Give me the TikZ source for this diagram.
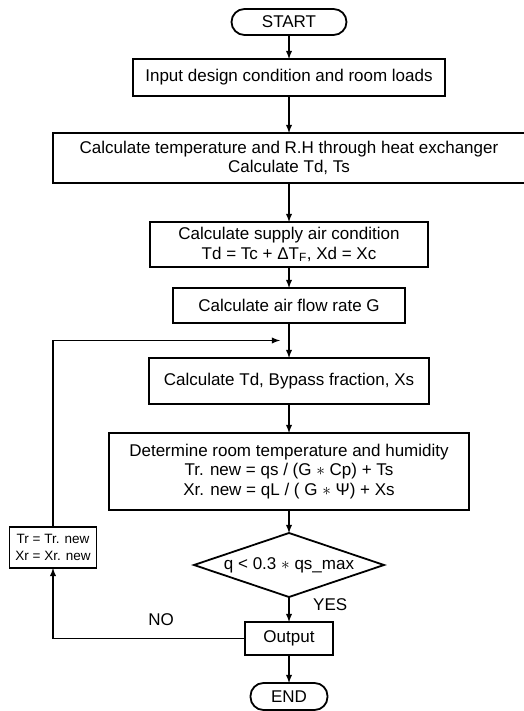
\documentclass[tikz,border=0pt]{standalone}
\usepackage{fontspec}
\setmainfont{Liberation Sans}
\usetikzlibrary{shapes,arrows,calc,positioning}

\begin{document}
\begin{tikzpicture}[x=1pt,y=1pt,line width=1.8pt,
  every node/.style={font=\fontsize{17}{19.5}\selectfont},
  block/.style={draw,rectangle,align=center,inner sep=0pt,outer sep=0pt},
  term/.style={draw,rectangle,rounded corners=13pt,inner sep=0pt,outer sep=0pt,minimum height=26pt},
  test/.style={draw,diamond,aspect=3,inner sep=0pt,outer sep=0pt}]

        \useasboundingbox (0,0) rectangle (523,711);

        \node[term,minimum width=115pt] (S) at (289,689) {START};
        \node[block,minimum width=312pt,minimum height=37pt] (I) [below = 24pt of S] {Input design condition and room loads};
        \node[block,minimum width=472pt,minimum height=50pt] (H) [below = 37pt of I]
          {Calculate temperature and R.H through heat exchanger\\Calculate Td, Ts};
        \node[block,minimum width=278pt,minimum height=45pt] (C) [below = 39pt of H]
          {Calculate supply air condition\\Td = Tc + ΔT\textsubscript{F}, Xd = Xc};
        \node[block,minimum width=232pt,minimum height=35pt] (G) [below = 21pt of C] {Calculate air flow rate G};
        \node[block,minimum width=280pt,minimum height=46pt] (B) [below = 35pt of G] {Calculate Td, Bypass fraction, Xs};
        \node[block,minimum width=360pt,minimum height=77pt] (R) [below = 29pt of B]
          {Determine room temperature and humidity\\Tr. new = qs / (G $\ast$ Cp) + Ts\\Xr. new = qL / ( G $\ast$ Ψ) + Xs};
        \node[test,minimum width=190pt,minimum height=64pt] (Q) [below = 23pt of R] {q < 0.3 $\ast$ qs\_max};
        \node[block,minimum width=88pt,minimum height=33pt] (O) [below = 25pt of Q] {Output};
        \node[term,minimum width=77pt,minimum height=27pt] (E) [below = 28pt of O] {END};

        \node[block,minimum width=87pt,minimum height=41pt,font=\fontsize{13.5}{16.5}\selectfont] (U) at (53,163.5)
          {Tr = Tr. new\\Xr = Xr. new};

        \coordinate (back) at ($(G.south)!0.5!(B.north)+(-9,0)$);

        \draw[-latex] (S) -- (I);
        \draw[-latex] (I) -- (H);
        \draw[-latex] (H) -- (C);
        \draw[-latex] (C) -- (G);
        \draw[-latex] (G) -- (B);
        \draw[-latex] (B) -- (R);
        \draw[-latex] (R) -- (Q);
        \draw[-latex] (Q) -- node[right=20pt,pos=0.3] (yes) {YES} (O);
        \draw[-latex] (O) -- (E);

        \draw[-latex] (O.west) -| (U.south);
        \draw[-latex] (U.north) |- (back);
        \node (no) at ($(O.west)+(-84,18.5)$) {NO};
      \end{tikzpicture}
\end{document}
